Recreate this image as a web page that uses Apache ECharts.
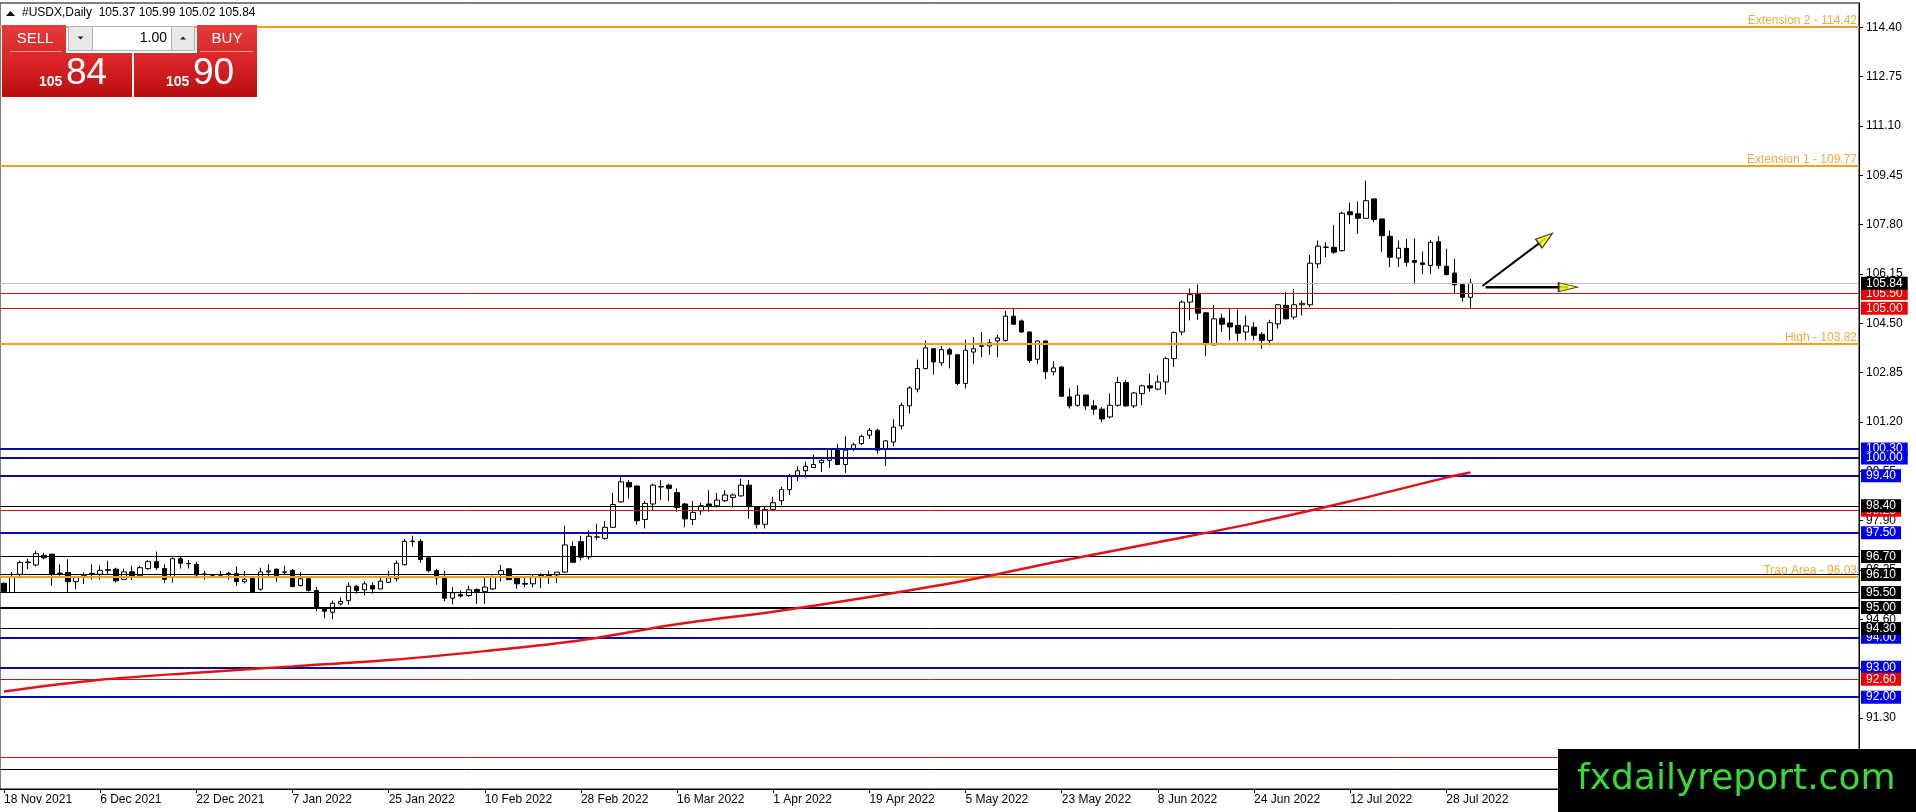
<!DOCTYPE html>
<html><head><meta charset="utf-8">
<script src="https://cdn.jsdelivr.net/npm/echarts@6/dist/echarts.min.js"></script>
<style>html,body{margin:0;padding:0;background:#fff}#c{width:1916px;height:812px}</style>
</head><body><div id="c"></div>
<script>
// ---------- DATA ----------
const tickLabels = ['18 Nov 2021','6 Dec 2021','22 Dec 2021','7 Jan 2022','25 Jan 2022','10 Feb 2022','28 Feb 2022','16 Mar 2022','1 Apr 2022','19 Apr 2022','5 May 2022','23 May 2022','8 Jun 2022','24 Jun 2022','12 Jul 2022','28 Jul 2022'];
const opens = [95.81,95.50,96.11,96.50,96.42,96.74,96.78,96.13,96.17,95.86,96.06,96.12,96.11,96.24,96.28,95.94,96.19,96.06,96.30,96.53,96.30,96.00,96.63,96.47,96.44,96.12,96.08,96.08,96.14,96.13,95.86,95.97,95.61,96.19,96.28,96.18,96.24,95.73,95.96,95.57,94.99,94.84,95.12,95.23,95.71,95.59,95.73,95.62,95.84,95.96,96.43,97.20,97.21,96.66,96.23,95.99,95.31,95.43,95.40,95.60,95.53,95.62,96.10,96.29,95.99,95.80,95.79,96.05,96.07,96.09,96.18,97.04,97.20,96.69,97.35,97.31,97.68,98.53,99.18,99.06,97.94,98.46,99.03,99.09,98.84,98.46,97.94,98.23,98.46,98.40,98.57,98.68,98.73,99.09,98.37,97.78,98.28,98.57,98.94,99.40,99.57,99.68,99.84,99.92,100.31,99.78,100.29,100.48,100.76,100.92,100.31,100.53,101.07,101.74,102.30,102.99,103.65,103.18,103.62,103.45,102.49,103.54,103.73,103.74,103.91,103.93,104.74,104.58,104.21,103.30,103.91,102.88,103.04,102.04,101.76,102.10,101.74,101.63,101.37,101.76,102.52,101.74,102.15,102.41,102.30,102.54,103.32,104.21,105.21,105.50,104.85,103.78,104.67,104.51,104.43,104.21,104.37,104.13,103.93,104.48,105.10,104.71,105.12,105.12,106.49,107.04,107.04,106.93,108.23,108.16,108.01,108.66,107.99,107.41,106.68,107.01,106.60,106.52,106.43,107.23,106.41,106.18,105.79,105.37];
const highs = [95.83,96.19,96.56,96.63,96.89,96.83,96.80,96.44,96.61,96.06,96.17,96.44,96.41,96.56,96.33,96.30,96.39,96.39,96.59,96.87,96.44,96.67,96.70,96.59,96.53,96.22,96.12,96.22,96.19,96.37,96.22,96.00,96.33,96.44,96.30,96.39,96.28,96.18,95.98,95.68,95.01,95.23,95.34,95.84,95.76,95.87,95.84,96.01,96.23,96.57,97.29,97.40,97.29,96.68,96.29,96.23,95.68,95.57,95.73,95.64,95.99,96.07,96.42,96.30,96.04,96.04,96.12,96.14,96.23,96.18,97.73,97.20,97.40,97.57,97.80,97.89,98.84,99.37,99.26,99.08,98.56,99.14,99.26,99.14,98.98,98.50,98.56,98.50,98.92,98.83,98.92,98.81,99.31,99.26,98.38,98.37,98.70,99.03,99.46,99.72,99.87,100.11,100.01,100.31,100.46,100.72,100.51,100.78,101.00,100.98,100.59,101.29,101.85,102.40,103.29,103.93,103.68,103.74,103.68,103.47,103.95,104.04,104.21,103.97,104.12,104.91,104.99,104.63,104.23,103.93,103.93,103.24,103.06,102.32,102.43,102.12,101.93,101.70,102.15,102.71,102.60,102.21,102.45,102.82,102.76,103.38,104.23,105.27,105.66,105.80,104.87,105.10,104.82,104.98,104.96,104.76,104.54,104.21,104.62,105.15,105.54,105.65,105.26,106.79,107.27,107.21,107.79,108.23,108.54,108.57,109.27,108.68,108.01,107.60,107.27,107.32,107.34,106.90,107.29,107.41,106.99,106.65,105.81,105.99];
const lows = [95.50,95.48,95.97,96.28,96.37,96.61,95.72,96.06,95.50,95.61,95.78,95.94,95.94,96.11,95.83,95.92,95.92,96.03,96.26,96.26,95.81,95.83,96.30,96.30,95.97,95.94,96.05,96.05,95.94,95.72,95.80,95.47,95.56,96.00,95.86,96.08,95.67,95.70,95.53,94.87,94.64,94.60,95.07,95.09,95.46,95.40,95.46,95.60,95.82,95.87,96.40,97.04,96.49,96.18,95.76,95.20,95.10,95.34,95.36,95.12,95.12,95.59,95.87,95.92,95.62,95.68,95.68,95.64,95.79,95.82,96.16,96.49,96.57,96.60,97.26,97.26,97.66,98.50,98.64,97.76,97.64,98.23,98.59,98.56,98.20,97.68,97.76,98.09,98.20,98.34,98.53,98.34,98.70,97.96,97.64,97.64,98.23,98.42,98.76,99.23,99.34,99.66,99.53,99.67,99.76,99.50,100.23,100.42,100.64,100.14,99.73,100.39,100.95,101.48,102.19,102.95,102.79,103.08,102.99,102.43,102.32,103.15,103.38,103.45,103.36,103.88,104.46,104.18,103.18,103.15,102.63,102.76,102.04,101.65,101.71,101.60,101.45,101.20,101.32,101.71,101.71,101.67,101.76,102.21,102.26,102.12,103.04,104.10,104.60,104.62,103.41,103.76,104.21,103.93,103.89,103.93,103.93,103.65,103.76,104.32,104.63,104.63,104.76,105.04,106.34,106.71,106.82,106.90,107.82,107.49,107.99,107.88,106.88,106.38,106.38,106.40,105.80,106.15,106.15,106.32,106.10,105.52,105.23,105.02];
const closes = [95.53,96.00,96.50,96.52,96.80,96.66,96.11,96.15,95.86,96.00,96.04,96.14,96.24,96.26,95.89,96.19,96.06,96.33,96.53,96.33,95.94,96.63,96.48,96.46,96.09,96.11,96.08,96.09,96.10,95.86,95.94,95.50,96.19,96.22,96.06,96.19,95.70,95.96,95.57,94.98,94.87,95.14,95.20,95.71,95.57,95.79,95.62,95.88,95.99,96.48,97.21,97.22,96.60,96.23,95.99,95.31,95.49,95.38,95.59,95.53,95.68,96.01,96.23,95.93,95.79,95.78,96.01,96.07,96.06,96.18,97.09,96.51,96.68,97.38,97.36,97.68,98.44,99.20,99.03,97.90,98.48,99.09,99.04,98.98,98.34,97.96,98.18,98.40,98.39,98.59,98.76,98.76,99.09,98.37,97.78,98.28,98.50,98.94,99.37,99.57,99.72,99.78,99.92,100.28,99.78,100.26,100.44,100.72,100.92,100.26,100.57,101.03,101.76,102.34,102.99,103.68,103.21,103.62,103.47,102.49,103.60,103.65,103.75,103.85,104.01,104.74,104.47,104.21,103.26,103.91,102.88,103.01,102.06,101.74,102.10,101.74,101.63,101.30,101.76,102.52,101.74,102.17,102.41,102.34,102.54,103.32,104.19,105.21,105.46,104.84,103.82,104.65,104.47,104.38,104.17,104.41,104.10,103.93,104.52,105.12,104.65,105.12,105.17,106.51,107.08,107.05,106.88,108.18,108.13,108.01,108.60,107.97,107.43,106.71,107.01,106.54,106.54,106.47,107.21,106.43,106.13,105.79,105.37,105.84];
const maIndex = [0,12,24,36,48,60,72,84,96,108,120,132,144,156,168,180,183];
const maValues = [92.19,92.58,92.82,93.03,93.24,93.54,93.90,94.44,94.86,95.35,95.90,96.56,97.18,97.82,98.55,99.34,99.51];
const priceTicks = [91.30,92.95,94.60,96.25,97.90,99.55,101.20,102.85,104.50,106.15,107.80,109.45,111.10,112.75,114.40];
const orangeNames = ['Extension 2','Extension 1','High','Trap Area'];
const orangeValues = [114.42,109.77,103.82,96.03];
const blueLevels = [100.30,100.00,99.40,97.50,94.00,93.00,92.00];
const redLevels = [105.50,105.00,98.25,92.60,90.00];
const blackLevels = [98.40,96.70,96.10,95.50,94.30,89.60];
const blackThickLevels = [95.00];
const currentPrice = 105.84;
const quote = {symbol:'#USDX,Daily', open:105.37, high:105.99, low:105.02, close:105.84, bid:'105.84', ask:'105.90', lot:'1.00'};
// arrow annotations in (bar index, price)
const arrowUp = [[184.5,105.75],[192.4,107.34]];
const arrowUpHead = [192.4,107.34];
const arrowFlat = [[184.9,105.71],[195.2,105.71]];
const arrowFlatHead = [195.2,105.71];

// ---------- CHART ----------
const N = 232;
const categories = [];
for (let i = 0; i < N; i++) categories.push(i % 12 === 0 && tickLabels[i / 12] ? tickLabels[i / 12] : 'b' + i);
const isTick = (i) => i % 12 === 0 && i / 12 < tickLabels.length;
const candles = opens.map((o, i) => [o, closes[i], lows[i], highs[i]]);
const FONT = '"Liberation Sans", Arial, sans-serif';

function boxLevel(v, lineColor, width, boxColor) {
  return {
    yAxis: v,
    lineStyle: {color: lineColor, width: width, type: 'solid'},
    label: {show: true, position: 'end', formatter: v.toFixed(2), color: '#fff', backgroundColor: boxColor,
      fontFamily: FONT, fontSize: 12, lineHeight: 13, padding: [0, 5, 0, 5], distance: 2}
  };
}
const markData = [];
orangeValues.forEach((v, i) => markData.push({
  yAxis: v, lineStyle: {color: '#f3a11c', width: 2, type: 'solid'},
  label: {show: true, position: 'insideEndTop', formatter: orangeNames[i] + ' - ' + v.toFixed(2),
    color: '#f2a93b', fontFamily: FONT, fontSize: 12, distance: [2, 0]}
}));
blueLevels.forEach(v => markData.push(boxLevel(v, '#0a0aa0', 2, '#0000f0')));
redLevels.forEach(v => markData.push(boxLevel(v, '#c81414', 1, '#f00000')));
blackThickLevels.forEach(v => markData.push(boxLevel(v, '#000', 2, '#000')));
blackLevels.forEach(v => markData.push(boxLevel(v, '#000', 1, '#000')));
markData.push(boxLevel(currentPrice, '#c0c0c0', 1, '#000'));

const chart = echarts.init(document.getElementById('c'), null, {renderer: 'canvas'});
const grad = (a, b) => ({type: 'linear', x: 0, y: 0, x2: 0, y2: 1, colorStops: [{offset: 0, color: a}, {offset: 1, color: b}]});
const W = '#fff';
chart.setOption({
  animation: false,
  backgroundColor: '#fff',
  grid: {left: 0, right: 57, top: 3, bottom: 23, show: true, borderColor: '#000', borderWidth: 1, backgroundColor: 'transparent'},
  xAxis: [{
    type: 'category', data: categories, boundaryGap: true,
    axisLine: {show: true, onZero: false, lineStyle: {color: '#000', width: 1}},
    axisTick: {show: true, alignWithLabel: true, length: 4, interval: (i) => isTick(i), lineStyle: {color: '#000'}},
    axisLabel: {show: true, interval: (i) => isTick(i), align: 'left', margin: 5, color: '#000', fontSize: 12, fontFamily: FONT},
    splitLine: {show: false}
  }, {
    type: 'value', min: -0.5, max: N - 0.5, show: false,
    axisLine: {show: false, onZero: false}, axisTick: {show: false}, axisLabel: {show: false}, splitLine: {show: false}
  }],
  yAxis: [{
    type: 'value', position: 'right', min: 88.93, max: 115.21, scale: true,
    axisLine: {show: true, onZero: false, lineStyle: {color: '#000'}},
    axisTick: {show: true, length: 4, inside: false, customValues: priceTicks, lineStyle: {color: '#000'}},
    axisLabel: {show: true, customValues: priceTicks, formatter: (v) => Number(v).toFixed(2), margin: 7, color: '#000', fontSize: 12, fontFamily: FONT},
    splitLine: {show: false}
  }],
  series: [{
    type: 'candlestick', xAxisIndex: 0, yAxisIndex: 0, data: candles, barWidth: 5, clip: false,
    itemStyle: {color: '#fff', color0: '#000', borderColor: '#000', borderColor0: '#000', borderWidth: 1},
    emphasis: {disabled: true},
    markLine: {silent: true, symbol: ['none', 'none'], animation: false, precision: 2, data: markData, emphasis: {disabled: true}}
  }, {
    type: 'line', xAxisIndex: 1, yAxisIndex: 0, z: 6, smooth: 0.35, showSymbol: false, symbol: 'none',
    data: maIndex.map((x, i) => [x, maValues[i]]),
    lineStyle: {color: '#e01418', width: 2.5}, silent: true
  }, {
    type: 'line', xAxisIndex: 1, yAxisIndex: 0, z: 7, showSymbol: false, symbol: 'none', data: arrowUp,
    lineStyle: {color: '#000', width: 2}, silent: true
  }, {
    type: 'line', xAxisIndex: 1, yAxisIndex: 0, z: 7, showSymbol: false, symbol: 'none', data: arrowFlat,
    lineStyle: {color: '#000', width: 2.5}, silent: true
  }, {
    type: 'scatter', xAxisIndex: 1, yAxisIndex: 0, z: 8, silent: true, symbol: 'triangle',
    itemStyle: {color: '#ffff00', borderColor: '#000', borderWidth: 1.2},
    data: [
      {value: arrowUpHead, symbolSize: [11, 17], symbolRotate: -53},
      {value: arrowFlatHead, symbolSize: [9, 19], symbolRotate: -90}
    ]
  }],
  graphic: [
    {type: 'polygon', z: 100, shape: {points: [[6, 16], [10.5, 11], [15, 16]]}, style: {fill: '#000'}},
    {type: 'text', z: 100, style: {x: 22, y: 13, text: quote.symbol + '  ' + quote.open.toFixed(2) + ' ' + quote.high.toFixed(2) + ' ' + quote.low.toFixed(2) + ' ' + quote.close.toFixed(2), fill: '#000', fontSize: 12, fontFamily: FONT, verticalAlign: 'middle'}},
    // one-click trading panel
    {type: 'rect', z: 100, shape: {x: 2, y: 25, width: 64, height: 28}, style: {fill: grad('#e53c3c', '#d92a2a')}},
    {type: 'rect', z: 100, shape: {x: 197, y: 25, width: 60, height: 28}, style: {fill: grad('#e53c3c', '#d92a2a')}},
    {type: 'line', z: 101, shape: {x1: 10, y1: 51.5, x2: 62, y2: 51.5}, style: {stroke: '#f19a9a', lineWidth: 1}},
    {type: 'line', z: 101, shape: {x1: 200, y1: 51.5, x2: 253, y2: 51.5}, style: {stroke: '#f19a9a', lineWidth: 1}},
    {type: 'text', z: 101, style: {x: 35, y: 39, text: 'SELL', fill: W, fontSize: 15, fontFamily: FONT, align: 'center', verticalAlign: 'middle'}},
    {type: 'text', z: 101, style: {x: 227, y: 39, text: 'BUY', fill: W, fontSize: 15, fontFamily: FONT, align: 'center', verticalAlign: 'middle'}},
    {type: 'rect', z: 100, shape: {x: 68.5, y: 26.5, width: 24, height: 24}, style: {fill: '#e8e8e8', stroke: '#b4b4b4', lineWidth: 1}},
    {type: 'rect', z: 100, shape: {x: 92.5, y: 26.5, width: 79, height: 24}, style: {fill: '#fff', stroke: '#b4b4b4', lineWidth: 1}},
    {type: 'rect', z: 100, shape: {x: 171.5, y: 26.5, width: 23, height: 24}, style: {fill: '#e8e8e8', stroke: '#b4b4b4', lineWidth: 1}},
    {type: 'polygon', z: 101, shape: {points: [[77.5, 36.5], [83.5, 36.5], [80.5, 39.5]]}, style: {fill: '#222'}},
    {type: 'polygon', z: 101, shape: {points: [[180, 39.5], [186, 39.5], [183, 36.5]]}, style: {fill: '#222'}},
    {type: 'text', z: 101, style: {x: 167, y: 38, text: quote.lot, fill: '#000', fontSize: 14, fontFamily: FONT, align: 'right', verticalAlign: 'middle'}},
    {type: 'rect', z: 100, shape: {x: 2, y: 53, width: 130, height: 44}, style: {fill: grad('#e02a2c', '#b90d0e')}},
    {type: 'rect', z: 100, shape: {x: 134, y: 53, width: 123, height: 44}, style: {fill: grad('#e02a2c', '#b90d0e')}},
    {type: 'text', z: 101, style: {x: 39, y: 82, text: quote.bid.slice(0, 3), fill: W, fontSize: 14, fontWeight: 'bold', fontFamily: FONT, verticalAlign: 'middle'}},
    {type: 'text', z: 101, style: {x: 66, y: 74, text: quote.bid.slice(4), fill: W, fontSize: 37, fontFamily: FONT, verticalAlign: 'middle'}},
    {type: 'text', z: 101, style: {x: 166, y: 82, text: quote.ask.slice(0, 3), fill: W, fontSize: 14, fontWeight: 'bold', fontFamily: FONT, verticalAlign: 'middle'}},
    {type: 'text', z: 101, style: {x: 193, y: 74, text: quote.ask.slice(4), fill: W, fontSize: 37, fontFamily: FONT, verticalAlign: 'middle'}},
    // watermark
    {type: 'rect', z: 110, shape: {x: 1558, y: 749, width: 358, height: 63}, style: {fill: '#000'}},
    {type: 'text', z: 111, style: {x: 1577, y: 780, text: 'fxdailyreport.com', fill: '#38d938', fontSize: 36, fontFamily: '"DejaVu Sans", sans-serif', verticalAlign: 'middle'}}
  ]
});
</script></body></html>
